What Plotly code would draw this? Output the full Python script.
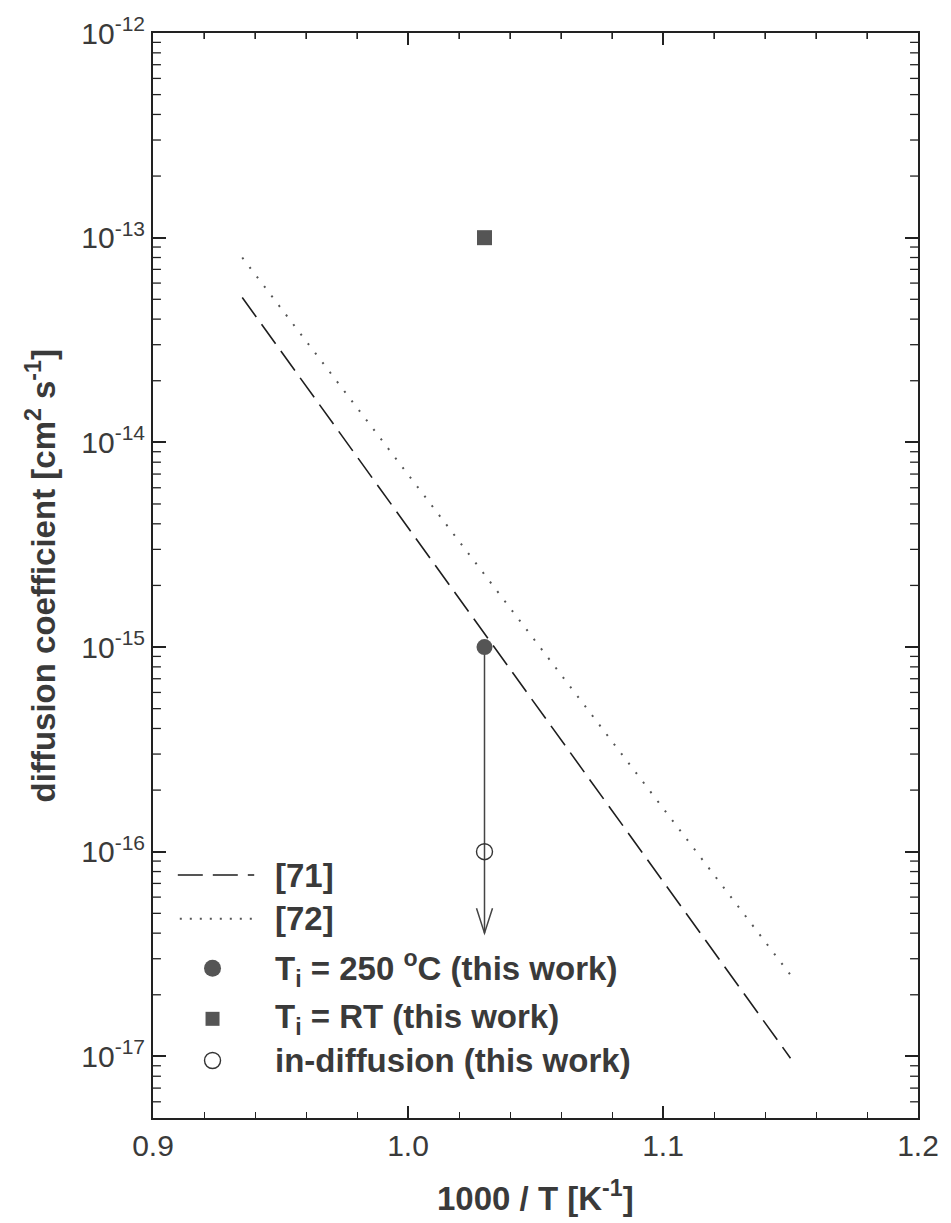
import plotly.graph_objects as go

# Arrhenius lines from the literature (straight lines in log D vs 1000/T)
x_ref71 = [0.935, 1.15]
d_ref71 = [5.1e-14, 9.8e-18]
x_ref72 = [0.935, 1.15]
d_ref72 = [8.0e-14, 2.5e-17]

# This work
x_work = [1.03]
d_ti250 = [1.0e-15]
d_tirt = [1.0e-13]
d_indiff = [1.0e-16]
d_limit_tip = 4.0e-17  # upper-limit arrow ends here

y_tickvals = [1e-17, 1e-16, 1e-15, 1e-14, 1e-13, 1e-12]
y_ticktext = ["10<sup>-17</sup>", "10<sup>-16</sup>", "10<sup>-15</sup>",
              "10<sup>-14</sup>", "10<sup>-13</sup>", "10<sup>-12</sup>"]
x_tickvals = [0.9, 1.0, 1.1, 1.2]
x_ticktext = ["0.9", "1.0", "1.1", "1.2"]

legend_labels = ["[71]", "[72]",
                 "T<sub>i</sub> = 250 <sup>o</sup>C (this work)",
                 "T<sub>i</sub> = RT (this work)",
                 "in-diffusion (this work)"]

W, H = 951, 1223
L, R, T, B = 153, 27, 24, 105
PW, PH = W - L - R, H - T - B

FONT = "Liberation Sans, Arial, Helvetica, sans-serif"
TXT = "#3a3a3a"
AX = "#222222"
MARK = "#555555"
DASH71 = "24px,9px"
DOT72 = "2px,10px"

Y_LOW, Y_HIGH = 5.0e-18, 1.0e-12
# minor ticks of the log axis: 2..9 in every decade
y_minor = [k * 10.0 ** e for e in range(-18, -12) for k in range(2, 10)]
y_minor = [v for v in y_minor if Y_LOW < v < Y_HIGH]
# minor ticks of the 1000/T axis every 0.02
x_minor = [round(0.9 + 0.02 * i, 2) for i in range(1, 15) if i % 5 != 0]


def px(x):
    return (x - L) / PW


def py(y):
    return (H - B - y) / PH


fig = go.Figure()

fig.add_trace(go.Scatter(x=x_ref71, y=d_ref71, mode="lines",
                         line=dict(color="#1e1e1e", width=1.6, dash=DASH71),
                         showlegend=False))
fig.add_trace(go.Scatter(x=x_ref72, y=d_ref72, mode="lines",
                         line=dict(color="#555555", width=2, dash=DOT72),
                         showlegend=False))
fig.add_trace(go.Scatter(x=x_work, y=d_ti250, mode="markers",
                         marker=dict(symbol="circle", size=16, color=MARK,
                                     line=dict(width=0)),
                         showlegend=False))
fig.add_trace(go.Scatter(x=x_work, y=d_tirt, mode="markers",
                         marker=dict(symbol="square", size=15, color=MARK,
                                     line=dict(width=0)),
                         showlegend=False))
fig.add_trace(go.Scatter(x=x_work, y=d_indiff, mode="markers",
                         marker=dict(symbol="circle-open", size=16, color="#333333",
                                     line=dict(width=1.4)),
                         showlegend=False))

# upper-limit arrow from the 250 C point: shaft plus an open "V" head
fig.add_shape(type="line", xref="x", yref="y", layer="below",
              x0=x_work[0], x1=x_work[0], y0=d_ti250[0], y1=d_limit_tip,
              line=dict(color="#444444", width=1.5))
fig.add_shape(type="path", xref="x", yref="y",
              xsizemode="pixel", ysizemode="pixel",
              xanchor=x_work[0], yanchor=d_limit_tip,
              path="M-8,25 L0,0 L8,25",
              line=dict(color="#444444", width=1.5))

# minor ticks on the left and right frame of the log axis
tick_w = 8 / PW
for v in y_minor:
    for xa, xb in ((0, tick_w), (1 - tick_w, 1)):
        fig.add_shape(type="line", xref="paper", yref="y", x0=xa, x1=xb,
                      y0=v, y1=v, line=dict(color=AX, width=1.3))
# minor ticks along the top frame
tick_h = 6 / PH
for v in x_minor:
    fig.add_shape(type="line", xref="x", yref="paper", x0=v, x1=v,
                  y0=1 - tick_h, y1=1, line=dict(color=AX, width=1.3))

# hand-built legend in the lower left corner
rows_y = [873, 917, 967, 1018, 1060]
fig.add_shape(type="line", xref="paper", yref="paper",
              x0=px(178), x1=px(255), y0=py(rows_y[0]), y1=py(rows_y[0]),
              line=dict(color="#1e1e1e", width=1.6, dash="25px,10px"))
fig.add_shape(type="line", xref="paper", yref="paper",
              x0=px(180), x1=px(253), y0=py(rows_y[1]), y1=py(rows_y[1]),
              line=dict(color="#555555", width=2, dash="2px,8px"))

fig.add_trace(go.Scatter(x=[px(213)], y=[py(rows_y[2])], xaxis="x2", yaxis="y2",
                         mode="markers", showlegend=False,
                         marker=dict(symbol="circle", size=17, color=MARK)))
fig.add_trace(go.Scatter(x=[px(213)], y=[py(rows_y[3])], xaxis="x2", yaxis="y2",
                         mode="markers", showlegend=False,
                         marker=dict(symbol="square", size=14, color=MARK)))
fig.add_trace(go.Scatter(x=[px(213)], y=[py(rows_y[4])], xaxis="x2", yaxis="y2",
                         mode="markers", showlegend=False,
                         marker=dict(symbol="circle-open", size=16, color="#333333",
                                     line=dict(width=1.4))))

for label, yy in zip(legend_labels, rows_y):
    fig.add_annotation(x=px(274), y=py(yy), xref="paper", yref="paper",
                       text="<b>" + label + "</b>", showarrow=False,
                       xanchor="left", yanchor="middle",
                       font=dict(family=FONT, size=33, color=TXT))

# axis titles
fig.add_annotation(x=px(40), y=0.5, xref="paper", yref="paper",
                   text="<b>diffusion coefficient [cm<sup>2</sup> s<sup>-1</sup>]</b>",
                   textangle=-90, showarrow=False, xanchor="center", yanchor="middle",
                   font=dict(family=FONT, size=33, color=TXT))
fig.add_annotation(x=0.5, y=py(1197), xref="paper", yref="paper",
                   text="<b>1000 / T [K<sup>-1</sup>]</b>",
                   showarrow=False, xanchor="center", yanchor="middle",
                   font=dict(family=FONT, size=33, color=TXT))

fig.update_layout(
    width=W, height=H,
    margin=dict(l=L, r=R, t=T, b=B),
    paper_bgcolor="white", plot_bgcolor="white",
    showlegend=False,
    xaxis=dict(range=[0.9, 1.2], tickmode="array", tickvals=x_tickvals,
               ticktext=x_ticktext, ticks="inside", ticklen=12, tickwidth=1.5,
               tickcolor=AX, showline=True, linewidth=2, linecolor=AX,
               mirror="ticks", showgrid=False, zeroline=False,
               tickfont=dict(family=FONT, size=30, color=TXT),
               minor=dict(ticks="inside", ticklen=6, tickwidth=1.3, tickcolor=AX,
                          dtick=0.02, tick0=0.9, showgrid=False)),
    yaxis=dict(type="log", range=[-17.301, -12], tickmode="array",
               tickvals=y_tickvals, ticktext=y_ticktext, ticks="inside",
               ticklen=13, tickwidth=1.5, tickcolor=AX, showline=True,
               linewidth=2, linecolor=AX, mirror="ticks", showgrid=False,
               zeroline=False, tickfont=dict(family=FONT, size=30, color=TXT)),
    xaxis2=dict(overlaying="x", range=[0, 1], visible=False, fixedrange=True),
    yaxis2=dict(overlaying="y", range=[0, 1], visible=False, fixedrange=True),
)

fig.write_html("out.html")
